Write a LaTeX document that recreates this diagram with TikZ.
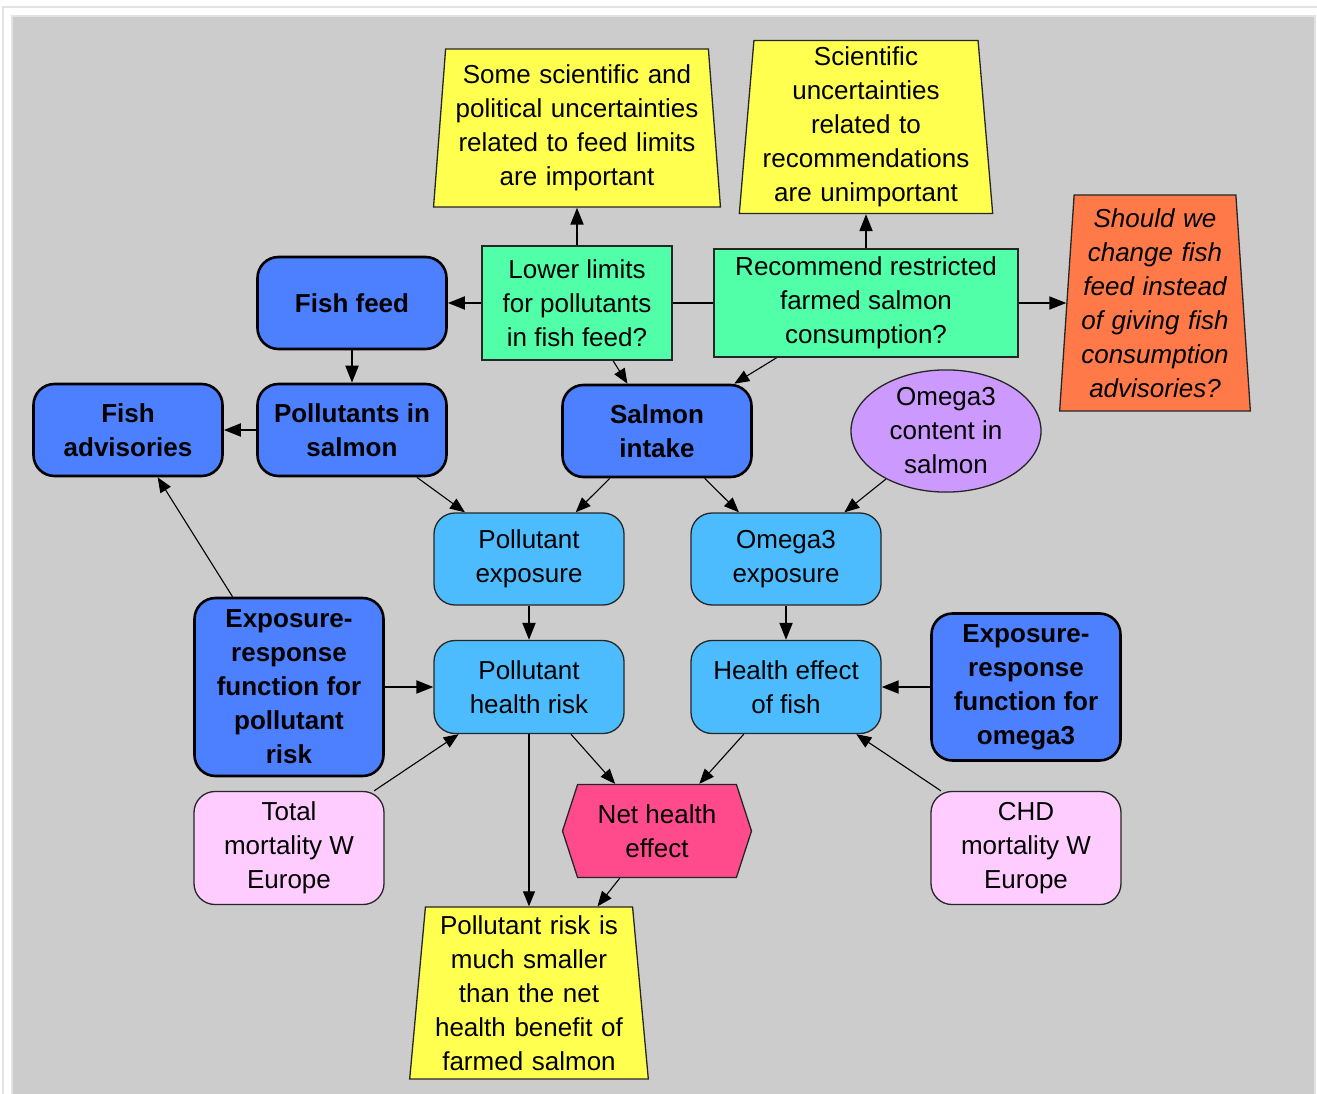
\documentclass[tikz,border=0pt]{standalone}
\usepackage{fontspec}
\setmainfont{Liberation Sans}
\usetikzlibrary{arrows.meta,shapes.geometric,shapes.symbols}
\definecolor{panelgray}{HTML}{CCCCCC}
\definecolor{framegray}{HTML}{E2E2E2}
\definecolor{darkblue}{HTML}{4D80FF}
\definecolor{lightblue}{HTML}{4CBCFF}
\definecolor{pinkc}{HTML}{FFCCFF}
\definecolor{purplec}{HTML}{CC99FF}
\definecolor{noteyellow}{HTML}{FFFF50}
\definecolor{decgreen}{HTML}{50FFA8}
\definecolor{orangec}{HTML}{FF7A48}
\definecolor{hexpink}{HTML}{FF4B8C}
\newcommand\dgfont{\fontsize{26}{34}\selectfont}
\pgfdeclarelayer{panel}
\pgfdeclarelayer{edges}
\pgfsetlayers{panel,edges,main}
\begin{document}
\begin{tikzpicture}[x=1pt,y=-1pt,
  dk/.style={rectangle, rounded corners=21pt, draw=black, line width=2.6pt, fill=darkblue,
    minimum width=189pt, minimum height=92pt, align=center, font=\bfseries\dgfont, inner sep=2pt},
  lb/.style={rectangle, rounded corners=21pt, draw=black!85, line width=1.3pt, fill=lightblue,
    minimum width=190pt, minimum height=92pt, align=center, font=\dgfont, inner sep=2pt},
  pk/.style={lb, fill=pinkc, minimum height=113pt},
  dec/.style={rectangle, draw=black!85, line width=1.3pt, fill=decgreen, align=center,
    font=\dgfont, inner sep=2pt},
  note/.style={trapezium, trapezium stretches=true, draw=black!85, line width=1.3pt,
    fill=noteyellow, align=center, inner sep=0pt, font=\dgfont},
  arr/.style={-{Triangle[length=17pt,width=13pt]}, line width=1.9pt, draw=black},
  arrd/.style={-{Triangle[length=15pt,width=12pt]}, line width=1.1pt, draw=black}
]
\useasboundingbox (0,0) rectangle (1317,1094);
\begin{pgfonlayer}{panel}
  \fill[white] (0,0) rectangle (1317,1094);
  \draw[framegray, line width=2pt] (3,1094) -- (3,7) -- (1317,7);
  \fill[panelgray] (12,16) rectangle (1315,1094);
  \draw[framegray, line width=2pt] (12,1094) -- (12,16) -- (1315,16) -- (1315,1094);
\end{pgfonlayer}

% notes
\node[note, minimum width=287pt, minimum height=158pt, trapezium left angle=84.8,
  trapezium right angle=84.8, text width=250pt] (note1) at (577,128)
  {Some scientific and\\political uncertainties\\related to feed limits\\are important};
\node[note, minimum width=254pt, minimum height=173pt, trapezium left angle=85,
  trapezium right angle=85, text width=215pt] (note2) at (866,127)
  {Scientific\\uncertainties\\related to\\recommendations\\are unimportant};
\node[note, fill=orangec, font=\itshape\dgfont, minimum width=191pt, minimum height=216pt,
  trapezium left angle=85.8, trapezium right angle=85.8, text width=155pt] (orange) at (1155,303)
  {Should we\\change fish\\feed instead\\of giving fish\\consumption\\advisories?};
\node[note, minimum width=239pt, minimum height=172pt, trapezium left angle=84.4,
  trapezium right angle=84.4, text width=200pt] (note3) at (529,993)
  {Pollutant risk is\\much smaller\\than the net\\health benefit of\\farmed salmon};

% decisions
\node[dec, minimum width=190pt, minimum height=114pt] (green1) at (577,303)
  {Lower limits\\for pollutants\\in fish feed?};
\node[dec, minimum width=304pt, minimum height=108pt] (green2) at (866,303)
  {Recommend restricted\\farmed salmon\\consumption?};

% dark blue
\node[dk] (ffeed) at (352,303) {Fish feed};
\node[dk] (fadv) at (128,430) {Fish\\advisories};
\node[dk] (pins) at (352,430) {Pollutants in\\salmon};
\node[dk] (sint) at (657,431) {Salmon\\intake};
\node[dk, minimum height=178pt] (erfp) at (289,687)
  {Exposure-\\response\\function for\\pollutant\\risk};
\node[dk, minimum height=147pt] (erfo) at (1026,687)
  {Exposure-\\response\\function for\\omega3};

% ellipse
\node[ellipse, draw=black!85, line width=1.3pt, fill=purplec, minimum width=190pt,
  minimum height=113pt, inner sep=0pt, align=center, font=\dgfont] (o3c) at (946,431)
  {Omega3\\content in\\salmon};

% light blue
\node[lb] (pexp) at (529,559) {Pollutant\\exposure};
\node[lb] (o3exp) at (786,559) {Omega3\\exposure};
\node[lb, minimum height=93pt] (phr) at (529,687) {Pollutant\\health risk};
\node[lb, minimum height=93pt] (hef) at (786,687) {Health effect\\of fish};

% pink
\node[pk] (tot) at (289,848) {Total\\mortality W\\Europe};
\node[pk] (chd) at (1026,848) {CHD\\mortality W\\Europe};

% hexagon
\node[signal, signal to=west and east, signal pointer angle=144, draw=black!85,
  line width=1.3pt, fill=hexpink, minimum width=189pt, minimum height=93pt,
  inner sep=0pt, align=center, font=\dgfont] (neth) at (657,831) {Net health\\effect};

% edges
\begin{pgfonlayer}{edges}
  \draw[arr] (green1) -- (ffeed);
  \draw[arr] (green1) -- (note1);
  \draw[arr] (green1) -- (orange);
  \draw[arr] (green2) -- (note2);
  \draw[arrd] (green1) -- (sint);
  \draw[arrd] (green2) -- (sint);
  \draw[arr] (ffeed) -- (pins);
  \draw[arr] (pins) -- (fadv);
  \draw[arrd] (pins) -- (pexp);
  \draw[arrd] (sint) -- (pexp);
  \draw[arrd] (sint) -- (o3exp);
  \draw[arrd] (o3c) -- (o3exp);
  \draw[arr] (pexp) -- (phr);
  \draw[arr] (o3exp) -- (hef);
  \draw[arr] (erfp) -- (phr);
  \draw[arr] (erfo) -- (hef);
  \draw[arrd] (erfp) -- (fadv);
  \draw[arrd] (tot) -- (phr);
  \draw[arrd] (chd) -- (hef);
  \draw[arrd] (phr) -- (neth);
  \draw[arrd] (hef) -- (neth);
  \draw[arrd] (phr) -- (note3);
  \draw[arrd] (neth) -- (note3);
\end{pgfonlayer}
\end{tikzpicture}
\end{document}
